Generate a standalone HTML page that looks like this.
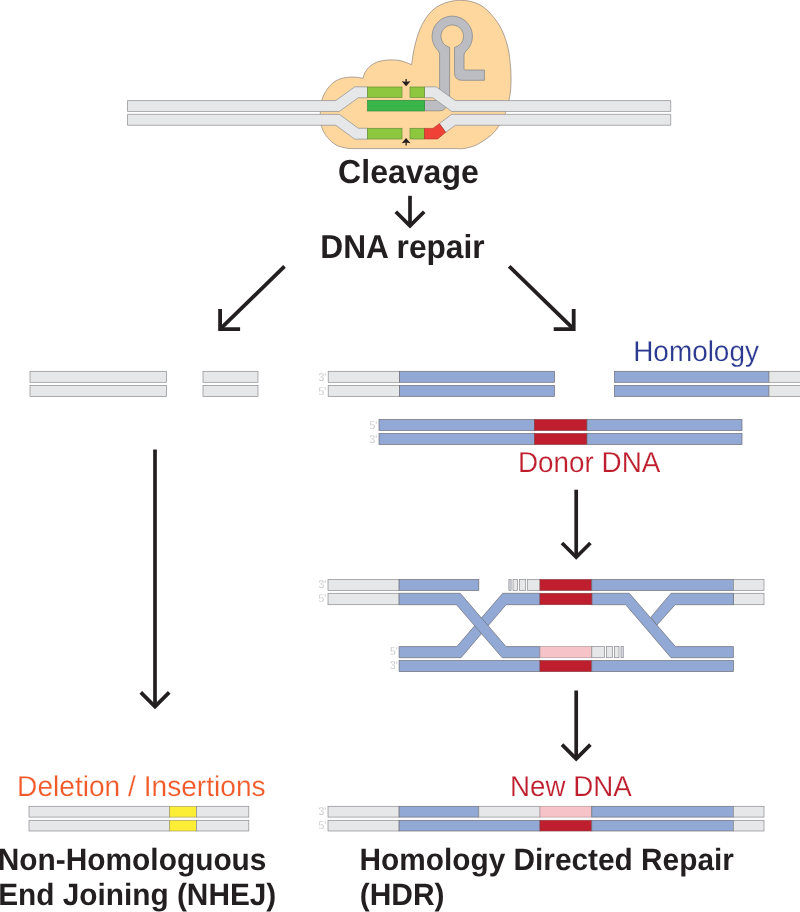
<!DOCTYPE html>
<html lang="en">
<head>
<meta charset="utf-8">
<title>CRISPR DNA repair: NHEJ and HDR</title>
<style>
html,body{margin:0;padding:0;background:#fff;}
body{width:800px;height:912px;overflow:hidden;}
svg{display:block;will-change:transform;}
text{text-rendering:geometricPrecision;}
</style>
</head>
<body>
<svg width="800" height="912" viewBox="0 0 800 912" font-family="'Liberation Sans', Arial, Helvetica, sans-serif">
<rect width="800" height="912" fill="#ffffff"/>
<path d="M352.00 148.60 C351.04 148.52 348.88 148.70 346.25 148.10 C343.62 147.50 339.38 146.77 336.25 145.00 C333.12 143.23 329.89 140.42 327.50 137.50 C325.11 134.58 323.10 131.46 321.90 127.50 C320.70 123.54 320.30 118.33 320.30 113.75 C320.30 109.17 320.70 104.17 321.90 100.00 C323.10 95.83 325.11 91.98 327.50 88.75 C329.89 85.52 333.12 82.47 336.25 80.60 C339.38 78.72 342.92 78.06 346.25 77.50 C349.58 76.94 353.44 77.12 356.25 77.25 C359.06 77.38 361.96 78.12 363.10 78.30 C363.42 77.33 363.85 74.51 365.00 72.50 C366.15 70.49 367.92 68.02 370.00 66.25 C372.08 64.48 374.58 62.94 377.50 61.90 C380.42 60.86 383.75 60.22 387.50 60.00 C391.25 59.78 395.98 59.82 400.00 60.60 C404.02 61.38 409.67 64.02 411.60 64.70 C411.83 63.08 412.43 58.28 413.00 55.00 C413.57 51.72 414.08 48.67 415.00 45.00 C415.92 41.33 417.17 36.67 418.50 33.00 C419.83 29.33 421.25 26.17 423.00 23.00 C424.75 19.83 426.83 16.58 429.00 14.00 C431.17 11.42 433.33 9.33 436.00 7.50 C438.67 5.67 442.00 4.12 445.00 3.00 C448.00 1.88 451.50 1.25 454.00 0.80 C456.50 0.35 457.33 0.22 460.00 0.30 C462.67 0.38 466.67 0.55 470.00 1.30 C473.33 2.05 477.00 3.18 480.00 4.80 C483.00 6.42 485.50 8.63 488.00 11.00 C490.50 13.37 493.00 16.42 495.00 19.00 C497.00 21.58 498.50 23.83 500.00 26.50 C501.50 29.17 502.83 32.08 504.00 35.00 C505.17 37.92 506.17 41.00 507.00 44.00 C507.83 47.00 508.50 50.00 509.00 53.00 C509.50 56.00 509.70 59.17 510.00 62.00 C510.30 64.83 510.63 67.00 510.80 70.00 C510.97 73.00 511.03 76.67 511.00 80.00 C510.97 83.33 510.93 86.67 510.60 90.00 C510.27 93.33 509.83 96.25 509.00 100.00 C508.17 103.75 507.20 108.33 505.60 112.50 C504.00 116.67 501.79 121.25 499.40 125.00 C497.01 128.75 495.11 131.67 491.25 135.00 C487.39 138.33 480.83 142.75 476.25 145.00 C471.67 147.25 466.79 147.90 463.75 148.50 C460.71 149.10 458.96 148.58 458.00 148.60 Z" fill="#fdd79d" stroke="#9c8f86" stroke-width="0.8" stroke-linejoin="miter"/>
<path d="M424.5 100.5 L439.6 100.5 L439.6 54.55 Q439.60 52.05 437.67 50.28 A20.2 20.2 0 1 1 466.03 51.07 Q464.00 52.73 464.0 55.23 L464.0 68.8 Q464.0 70.0 465.2 70.0 L484.4 70.0 L484.4 80.3 L462.0 80.3 Q454.5 80.3 454.5 72.8 L454.5 47.37 A11.3 11.3 0 1 0 449.6 47.28 L449.6 97 L446 103 L446 105 Q446 110.8 439.5 110.8 L424.5 110.8 Z" fill="#bbbdc2" stroke="#808285" stroke-width="0.7" stroke-linejoin="round"/>
<polygon points="127.50,111.45 339.26,111.45 358.26,97.75 367.50,97.75 367.50,86.85 354.74,86.85 335.74,100.55 127.50,100.55" fill="#e6e7e8" stroke="#8c8b8f" stroke-width="0.7" stroke-linejoin="miter" />
<polygon points="127.50,125.25 335.72,125.25 354.72,139.15 367.50,139.15 367.50,128.25 358.28,128.25 339.28,114.35 127.50,114.35" fill="#e6e7e8" stroke="#8c8b8f" stroke-width="0.7" stroke-linejoin="miter" />
<polygon points="424.50,97.75 432.74,97.75 451.74,111.45 670.70,111.45 670.70,100.55 455.26,100.55 436.26,86.85 424.50,86.85" fill="#e6e7e8" stroke="#8c8b8f" stroke-width="0.7" stroke-linejoin="miter" />
<polygon points="445.76,132.37 455.31,125.25 670.70,125.25 670.70,114.35 451.69,114.35 439.24,123.63" fill="#e6e7e8" stroke="#8c8b8f" stroke-width="0.7" stroke-linejoin="miter" />
<rect x="367.50" y="87.00" width="34.50" height="10.60" fill="#8dc63f" stroke="#6b8f3a" stroke-width="0.7"/>
<rect x="410.00" y="87.00" width="14.50" height="10.60" fill="#8dc63f" stroke="#6b8f3a" stroke-width="0.7"/>
<rect x="367.50" y="100.30" width="57.00" height="10.70" fill="#39b54a" stroke="#2f8a3c" stroke-width="0.7"/>
<rect x="367.50" y="128.30" width="34.50" height="10.70" fill="#8dc63f" stroke="#6b8f3a" stroke-width="0.7"/>
<rect x="410.00" y="128.30" width="14.50" height="10.70" fill="#8dc63f" stroke="#6b8f3a" stroke-width="0.7"/>
<polygon points="424.50,128.40 432.90,128.40 439.40,123.70 445.60,132.30 437.60,138.90 424.50,138.90" fill="#ef4136" stroke="#b5352c" stroke-width="0.7" stroke-linejoin="miter" />
<path d="M406.1 78.9 L406.1 82.5" stroke="#231f20" stroke-width="1.3"/>
<path d="M406.1 86.3 L401.70000000000005 81.2 L406.1 81.8 L410.5 81.2 Z" fill="#231f20"/>
<path d="M406.1 145.5 L406.1 141.9" stroke="#231f20" stroke-width="1.3"/>
<path d="M406.1 138.1 L401.70000000000005 143.20000000000002 L406.1 142.6 L410.5 143.20000000000002 Z" fill="#231f20"/>
<text transform="translate(338.12 183.00) scale(0.9652 1)" font-size="33.2" font-weight="bold" fill="#231f20">Cleavage</text>
<text transform="translate(320.36 258.00) scale(0.9541 1)" font-size="33.2" font-weight="bold" fill="#231f20">DNA repair</text>
<path d="M410 195.8 L410 225.9" stroke="#231f20" stroke-width="3.7" fill="none"/>
<path d="M395.8 211.70000000000002 L410 225.9 L424.2 211.70000000000002" stroke="#231f20" stroke-width="3.7" fill="none" stroke-linejoin="miter"/>
<path d="M284.5 266.3 L220.1 329.1" stroke="#231f20" stroke-width="3.8" fill="none"/>
<path d="M220.1 309.1 L220.1 329.1 L240.1 329.1" stroke="#231f20" stroke-width="3.8" fill="none" stroke-linejoin="miter"/>
<path d="M509.2 266.3 L573.7 329.1" stroke="#231f20" stroke-width="3.8" fill="none"/>
<path d="M573.7 309.1 L573.7 329.1 L553.7 329.1" stroke="#231f20" stroke-width="3.8" fill="none" stroke-linejoin="miter"/>
<rect x="30.00" y="371.30" width="136.40" height="11.00" fill="#e6e7e8" stroke="#8c8b8f" stroke-width="0.7"/>
<rect x="203.00" y="371.30" width="55.00" height="11.00" fill="#e6e7e8" stroke="#8c8b8f" stroke-width="0.7"/>
<rect x="30.00" y="385.40" width="136.40" height="11.00" fill="#e6e7e8" stroke="#8c8b8f" stroke-width="0.7"/>
<rect x="203.00" y="385.40" width="55.00" height="11.00" fill="#e6e7e8" stroke="#8c8b8f" stroke-width="0.7"/>
<text transform="translate(326.2 381) scale(0.9 1)" font-size="11.4" fill="#a3a5a8" text-anchor="end" stroke="#ffffff" stroke-width="0.35">3'</text>
<text transform="translate(326.2 395) scale(0.9 1)" font-size="11.4" fill="#a3a5a8" text-anchor="end" stroke="#ffffff" stroke-width="0.35">5'</text>
<rect x="328.20" y="371.30" width="71.20" height="11.00" fill="#e6e7e8" stroke="#8c8b8f" stroke-width="0.7"/>
<rect x="399.40" y="371.30" width="155.10" height="11.00" fill="#92a9d6" stroke="#6e6e76" stroke-width="0.7"/>
<rect x="614.50" y="371.30" width="154.50" height="11.00" fill="#92a9d6" stroke="#6e6e76" stroke-width="0.7"/>
<rect x="769.00" y="371.30" width="36.00" height="11.00" fill="#e6e7e8" stroke="#8c8b8f" stroke-width="0.7"/>
<rect x="328.20" y="385.40" width="71.20" height="11.00" fill="#e6e7e8" stroke="#8c8b8f" stroke-width="0.7"/>
<rect x="399.40" y="385.40" width="155.10" height="11.00" fill="#92a9d6" stroke="#6e6e76" stroke-width="0.7"/>
<rect x="614.50" y="385.40" width="154.50" height="11.00" fill="#92a9d6" stroke="#6e6e76" stroke-width="0.7"/>
<rect x="769.00" y="385.40" width="36.00" height="11.00" fill="#e6e7e8" stroke="#8c8b8f" stroke-width="0.7"/>
<text transform="translate(633.20 361.00) scale(0.9695 1)" font-size="28.8" font-weight="normal" fill="#2b3990" stroke="#ffffff" stroke-width="0.2">Homology</text>
<text transform="translate(377.2 429) scale(0.9 1)" font-size="11.4" fill="#a3a5a8" text-anchor="end" stroke="#ffffff" stroke-width="0.35">5'</text>
<text transform="translate(377.2 443) scale(0.9 1)" font-size="11.4" fill="#a3a5a8" text-anchor="end" stroke="#ffffff" stroke-width="0.35">3'</text>
<rect x="379.00" y="419.50" width="155.50" height="11.00" fill="#92a9d6" stroke="#6e6e76" stroke-width="0.7"/>
<rect x="534.50" y="419.50" width="52.50" height="11.00" fill="#be1e2d" stroke="#8f3a3f" stroke-width="0.7"/>
<rect x="587.00" y="419.50" width="155.00" height="11.00" fill="#92a9d6" stroke="#6e6e76" stroke-width="0.7"/>
<rect x="379.00" y="433.50" width="155.50" height="11.00" fill="#92a9d6" stroke="#6e6e76" stroke-width="0.7"/>
<rect x="534.50" y="433.50" width="52.50" height="11.00" fill="#be1e2d" stroke="#8f3a3f" stroke-width="0.7"/>
<rect x="587.00" y="433.50" width="155.00" height="11.00" fill="#92a9d6" stroke="#6e6e76" stroke-width="0.7"/>
<text transform="translate(518.00 472.00) scale(0.9669 1)" font-size="28.8" font-weight="normal" fill="#be1e2d" stroke="#ffffff" stroke-width="0.2">Donor DNA</text>
<path d="M576.2 489.7 L576.2 557.2" stroke="#231f20" stroke-width="3.7" fill="none"/>
<path d="M562.0 543.0 L576.2 557.2 L590.4000000000001 543.0" stroke="#231f20" stroke-width="3.7" fill="none" stroke-linejoin="miter"/>
<path d="M155 449.5 L155 706.6" stroke="#231f20" stroke-width="3.7" fill="none"/>
<path d="M140.8 692.4 L155 706.6 L169.2 692.4" stroke="#231f20" stroke-width="3.7" fill="none" stroke-linejoin="miter"/>
<text transform="translate(326.2 588) scale(0.9 1)" font-size="11.4" fill="#a3a5a8" text-anchor="end" stroke="#ffffff" stroke-width="0.35">3'</text>
<text transform="translate(326.2 602) scale(0.9 1)" font-size="11.4" fill="#a3a5a8" text-anchor="end" stroke="#ffffff" stroke-width="0.35">5'</text>
<text transform="translate(397.7 655) scale(0.9 1)" font-size="11.4" fill="#a3a5a8" text-anchor="end" stroke="#ffffff" stroke-width="0.35">5'</text>
<text transform="translate(397.7 669) scale(0.9 1)" font-size="11.4" fill="#a3a5a8" text-anchor="end" stroke="#ffffff" stroke-width="0.35">3'</text>
<rect x="328.00" y="579.50" width="71.10" height="10.90" fill="#e6e7e8" stroke="#8c8b8f" stroke-width="0.7"/>
<rect x="399.10" y="579.50" width="79.70" height="10.90" fill="#92a9d6" stroke="#6e6e76" stroke-width="0.7"/>
<rect x="508.90" y="579.50" width="2.20" height="10.90" fill="#d3d9e4" stroke="#8c8b8f" stroke-width="0.7"/>
<rect x="513.00" y="579.50" width="4.60" height="10.90" fill="#e6e7e8" stroke="#8c8b8f" stroke-width="0.7"/>
<rect x="519.40" y="579.50" width="6.30" height="10.90" fill="#e6e7e8" stroke="#8c8b8f" stroke-width="0.7"/>
<rect x="527.60" y="579.50" width="12.40" height="10.90" fill="#e6e7e8" stroke="#8c8b8f" stroke-width="0.7"/>
<rect x="540.00" y="579.50" width="51.80" height="10.90" fill="#be1e2d" stroke="#8f3a3f" stroke-width="0.7"/>
<rect x="591.80" y="579.50" width="141.60" height="10.90" fill="#92a9d6" stroke="#6e6e76" stroke-width="0.7"/>
<rect x="733.40" y="579.50" width="30.60" height="10.90" fill="#e6e7e8" stroke="#8c8b8f" stroke-width="0.7"/>
<rect x="328.00" y="593.30" width="71.10" height="11.40" fill="#e6e7e8" stroke="#8c8b8f" stroke-width="0.7"/>
<rect x="733.40" y="593.30" width="30.60" height="11.40" fill="#e6e7e8" stroke="#8c8b8f" stroke-width="0.7"/>
<rect x="399.10" y="660.60" width="140.90" height="11.00" fill="#92a9d6" stroke="#6e6e76" stroke-width="0.7"/>
<rect x="540.00" y="660.60" width="51.80" height="11.00" fill="#be1e2d" stroke="#8f3a3f" stroke-width="0.7"/>
<rect x="591.80" y="660.60" width="141.60" height="11.00" fill="#92a9d6" stroke="#6e6e76" stroke-width="0.7"/>
<polygon points="733.40,593.30 671.00,593.30 650.75,617.25 656.75,625.20 675.20,604.70 733.40,604.70" fill="#92a9d6" stroke="#6e6e76" stroke-width="0.7" stroke-linejoin="miter" />
<polygon points="591.80,593.30 629.30,593.30 675.50,646.60 733.40,646.60 733.40,657.70 671.00,657.70 625.70,604.70 591.80,604.70" fill="#92a9d6" stroke="#6e6e76" stroke-width="0.7" stroke-linejoin="miter" />
<polygon points="399.10,646.60 456.80,646.60 502.70,593.30 540.00,593.30 540.00,604.70 506.00,604.70 461.00,657.70 399.10,657.70" fill="#92a9d6" stroke="#6e6e76" stroke-width="0.7" stroke-linejoin="miter" />
<polygon points="399.10,593.30 460.25,593.30 506.00,646.60 540.00,646.60 540.00,657.70 502.25,657.70 456.50,604.70 399.10,604.70" fill="#92a9d6" stroke="#6e6e76" stroke-width="0.7" stroke-linejoin="miter" />
<rect x="540.00" y="593.30" width="51.80" height="11.40" fill="#be1e2d" stroke="#8f3a3f" stroke-width="0.7"/>
<rect x="540.00" y="646.60" width="51.80" height="11.10" fill="#f6c3c9" stroke="#b59a9c" stroke-width="0.7"/>
<rect x="591.80" y="646.60" width="12.70" height="11.10" fill="#e6e7e8" stroke="#8c8b8f" stroke-width="0.7"/>
<rect x="606.40" y="646.60" width="6.10" height="11.10" fill="#e6e7e8" stroke="#8c8b8f" stroke-width="0.7"/>
<rect x="614.60" y="646.60" width="4.40" height="11.10" fill="#e6e7e8" stroke="#8c8b8f" stroke-width="0.7"/>
<rect x="621.00" y="646.60" width="2.30" height="11.10" fill="#d3d9e4" stroke="#8c8b8f" stroke-width="0.7"/>
<path d="M576.2 690.5 L576.2 758.8" stroke="#231f20" stroke-width="3.7" fill="none"/>
<path d="M562.0 744.5999999999999 L576.2 758.8 L590.4000000000001 744.5999999999999" stroke="#231f20" stroke-width="3.7" fill="none" stroke-linejoin="miter"/>
<text transform="translate(326.2 815) scale(0.9 1)" font-size="11.4" fill="#a3a5a8" text-anchor="end" stroke="#ffffff" stroke-width="0.35">3'</text>
<text transform="translate(326.2 829) scale(0.9 1)" font-size="11.4" fill="#a3a5a8" text-anchor="end" stroke="#ffffff" stroke-width="0.35">5'</text>
<rect x="328.00" y="806.30" width="71.10" height="10.80" fill="#e6e7e8" stroke="#8c8b8f" stroke-width="0.7"/>
<rect x="399.10" y="806.30" width="79.70" height="10.80" fill="#92a9d6" stroke="#6e6e76" stroke-width="0.7"/>
<rect x="478.80" y="806.30" width="61.20" height="10.80" fill="#e6e7e8" stroke="#8c8b8f" stroke-width="0.7"/>
<rect x="540.00" y="806.30" width="51.80" height="10.80" fill="#f6c3c9" stroke="#b59a9c" stroke-width="0.7"/>
<rect x="591.80" y="806.30" width="141.60" height="10.80" fill="#92a9d6" stroke="#6e6e76" stroke-width="0.7"/>
<rect x="733.40" y="806.30" width="30.60" height="10.80" fill="#e6e7e8" stroke="#8c8b8f" stroke-width="0.7"/>
<rect x="328.00" y="820.30" width="71.10" height="10.70" fill="#e6e7e8" stroke="#8c8b8f" stroke-width="0.7"/>
<rect x="399.10" y="820.30" width="140.90" height="10.70" fill="#92a9d6" stroke="#6e6e76" stroke-width="0.7"/>
<rect x="540.00" y="820.30" width="51.80" height="10.70" fill="#be1e2d" stroke="#8f3a3f" stroke-width="0.7"/>
<rect x="591.80" y="820.30" width="141.60" height="10.70" fill="#92a9d6" stroke="#6e6e76" stroke-width="0.7"/>
<rect x="733.40" y="820.30" width="30.60" height="10.70" fill="#e6e7e8" stroke="#8c8b8f" stroke-width="0.7"/>
<text transform="translate(510.01 796.00) scale(0.9630 1)" font-size="28.8" font-weight="normal" fill="#be1e2d" stroke="#ffffff" stroke-width="0.2">New DNA</text>
<rect x="29.00" y="806.30" width="140.70" height="10.80" fill="#e6e7e8" stroke="#8c8b8f" stroke-width="0.7"/>
<rect x="169.70" y="806.30" width="26.80" height="10.80" fill="#fcee35" stroke="#a8a060" stroke-width="0.7"/>
<rect x="196.50" y="806.30" width="52.30" height="10.80" fill="#e6e7e8" stroke="#8c8b8f" stroke-width="0.7"/>
<rect x="29.00" y="820.30" width="140.70" height="10.70" fill="#e6e7e8" stroke="#8c8b8f" stroke-width="0.7"/>
<rect x="169.70" y="820.30" width="26.80" height="10.70" fill="#fcee35" stroke="#a8a060" stroke-width="0.7"/>
<rect x="196.50" y="820.30" width="52.30" height="10.70" fill="#e6e7e8" stroke="#8c8b8f" stroke-width="0.7"/>
<text transform="translate(17.08 796.00) scale(0.9764 1)" font-size="28.8" font-weight="normal" fill="#f15a29" stroke="#ffffff" stroke-width="0.2">Deletion / Insertions</text>
<text transform="translate(-2.22 870.00) scale(0.9696 1)" font-size="30.8" font-weight="bold" fill="#231f20">Non-Homologuous</text>
<text transform="translate(-1.81 905.00) scale(0.9675 1)" font-size="30.8" font-weight="bold" fill="#231f20">End Joining (NHEJ)</text>
<text transform="translate(359.49 870.00) scale(0.9680 1)" font-size="30.8" font-weight="bold" fill="#231f20">Homology Directed Repair</text>
<text transform="translate(359.75 905.00) scale(0.9725 1)" font-size="30.8" font-weight="bold" fill="#231f20">(HDR)</text>
</svg>
</body>
</html>
